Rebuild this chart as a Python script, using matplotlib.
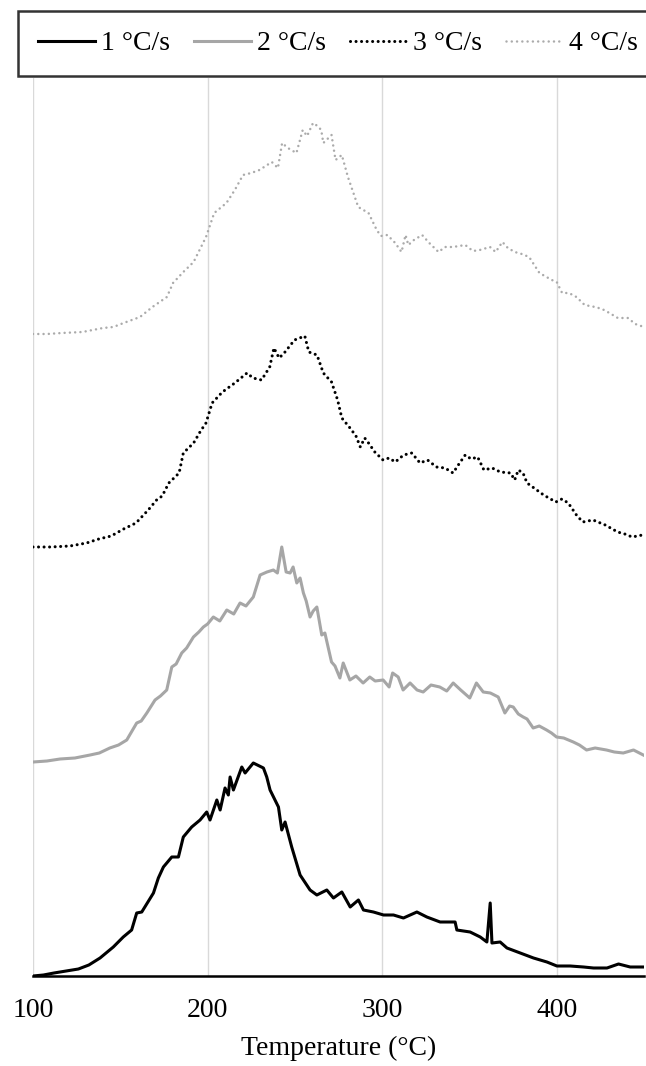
import matplotlib.pyplot as plt

plt.rcParams['font.family'] = ['Liberation Serif', 'DejaVu Serif']

# 1 C/s
t1 = [100, 106, 112, 119, 126, 132, 138.4, 146, 151.7, 156.5, 159.4, 162.3, 169, 171.8, 174.7, 179.5,
      183.3, 186.1, 190.9, 195.7, 199.5, 201.4, 205.3, 207.2, 210, 211.9, 212.9, 214.8, 219.6, 221.5,
      226.2, 232, 233.9, 235.8, 240.6, 242.5, 244.4, 248.2, 253, 258.7, 262.6, 268.3, 272.1, 276.9,
      281.7, 286.4, 289.3, 295, 300.8, 306.5, 312.2, 319.9, 325.6, 333.2, 341.8, 342.8, 350.4, 356.2,
      360, 361.9, 362.9, 367.6, 371.5, 379.1, 386.7, 394.4, 400.1, 407.7, 415.4, 421.1, 428.8, 435.4,
      442.1, 449.8]
y1 = [0, 1, 3, 5, 7, 11, 18, 29, 39, 46, 63, 64, 83, 98, 109, 119,
      119, 139, 149, 156, 164, 156, 176, 166, 188, 181, 199, 186, 209, 203,
      213, 208, 199, 186, 169, 146, 154, 129, 101, 86, 81, 86, 78, 84,
      69, 76, 66, 64, 61, 61, 58, 64, 59, 54, 54, 46, 44, 39,
      34, 73, 33, 34, 28, 23, 18, 14, 10, 10, 9, 8, 8, 12,
      9, 9]

# 2 C/s
t2 = [100, 108, 115.5, 124, 132.7, 138, 144, 149, 153.7, 159.4, 162, 165.2, 169.9, 173, 176.6, 179.5,
      182, 185.2, 188, 191.9, 195, 197.6, 200, 203.3, 207, 211, 215, 218.6, 222, 226.2, 230.1, 234,
      237.7, 240, 242.5, 245, 247.3, 249, 251.1, 253, 254.9, 256.5, 258.7, 260.5, 262.6, 265.4, 267.2,
      271, 273, 275.8, 277.7, 281.5, 285, 289.1, 292.9, 296, 300.6, 304, 306, 309.2, 312, 316, 320,
      323.5, 328, 333, 337, 340.7, 345, 350.2, 354, 357.9, 362, 366.5, 370.3, 373, 375.1, 378, 380.8,
      383, 386.5, 390, 394.2, 397, 399.9, 404, 409.5, 413, 417.1, 422, 428.5, 433, 438.1, 444, 449.6]
y2 = [214, 215, 217, 218, 221, 223, 228, 231, 236, 253, 255, 263, 276, 280, 286, 309,
      312, 323, 328, 339, 344, 349, 352, 359, 355, 366, 362, 373, 370, 379, 401, 404,
      406, 403, 429, 404, 403, 409, 393, 398, 383, 375, 359, 365, 369, 341, 343,
      314, 310, 298, 313, 296, 300, 293, 299, 295, 296, 289, 303, 299, 286, 293, 286,
      284, 291, 289, 285, 293, 286, 278, 293, 284, 283, 279, 263, 270, 269, 262, 259,
      257, 248, 250, 246, 243, 239, 238, 234, 231, 226, 228, 226, 224, 223, 226, 221]

# 3 C/s
t3 = [100, 110, 121.2, 130.7, 137.7, 144.8, 151.9, 159, 166, 170.8, 174, 177.8, 183.7, 186.1, 192,
      196, 199.1, 202.6, 208.5, 215.6, 222.6, 226, 230.9, 235.6, 238, 241, 243.9, 249.8, 255.7, 258,
      262.7, 266.3, 271, 274.5, 276.9, 281.6, 285, 287.5, 290, 292.2, 295.8, 300.5, 304, 307.5, 312.3,
      317, 321.7, 326, 331.1, 336, 340.6, 344, 347.6, 351, 354.7, 358.3, 363, 367.7, 373.6, 375.9,
      378, 380.7, 383, 387, 392.5, 399.5, 403, 406.6, 411.3, 414.9, 420.8, 427.8, 434.9, 439, 443.2, 449.1]
y3 = [429, 429, 430, 433, 437, 440, 447, 453, 466, 476, 480, 493, 503, 523, 533,
      545, 553, 573, 584, 593, 603, 598, 596, 609, 628, 618, 623, 636, 640, 624,
      621, 603, 594, 576, 558, 548, 540, 529, 538, 533, 524, 516, 518, 514, 521,
      523, 513, 516, 509, 508, 503, 512, 521, 517, 519, 506, 508, 504, 503, 496,
      506, 503, 493, 488, 481, 474, 477, 473, 461, 454, 456, 451, 444, 442, 439, 441]

# 4 C/s
t4 = [100, 108, 116.5, 128.3, 140.1, 146, 151.9, 161.3, 168.4, 176.7, 180.2, 186.1, 192, 199.1, 203.8,
      210.8, 215.6, 220.3, 225, 229.7, 236.8, 240.3, 242.7, 246, 250.9, 254.5, 257, 260.4, 263,
      265.1, 266.3, 271, 273.3, 276.9, 280.4, 286.3, 292.2, 296.9, 299.3, 303, 307.5, 311.1, 313.4,
      315, 318.2, 322.9, 327, 332.3, 336, 340.6, 347.6, 352, 355.9, 361.8, 365, 368.9, 372, 376, 380,
      384.2, 390.1, 397.2, 400, 403.1, 407, 411.3, 416, 422, 426, 430.2, 435, 440.8, 445, 450]
y4 = [642, 642, 643, 644, 648, 649, 653, 659, 669, 679, 693, 704, 714, 739, 763,
      773, 786, 801, 803, 806, 814, 808, 833, 828, 823, 846, 840, 853, 850,
      846, 833, 841, 816, 821, 799, 769, 763, 746, 740, 741, 733, 724, 741,
      731, 736, 741, 733, 724, 729, 729, 731, 725, 726, 729, 724, 734, 728, 724, 722,
      719, 703, 696, 694, 683, 683, 679, 671, 669, 667, 663, 658, 658, 652, 649]

labels = ['1 \u00b0C/s', '2 \u00b0C/s', '3 \u00b0C/s', '4 \u00b0C/s']

fig = plt.figure(figsize=(6.46, 10.66), dpi=100)
ax = fig.add_axes([33 / 646, 90 / 1066, 611 / 646, 898 / 1066])

ax.plot(t1, y1, color='black', lw=2.2, label=labels[0])
ax.plot(t2, y2, color='#a6a6a6', lw=2.2, label=labels[1])
ax.plot(t3, y3, color='black', lw=2.2, linestyle=(0, (0.01, 1.8)), dash_capstyle='round', label=labels[2])
ax.plot(t4, y4, color='#ababab', lw=1.8, linestyle=(0, (0.01, 2.1)), dash_capstyle='round', label=labels[3])

ax.set_xlim(100, 450)
ax.set_ylim(0, 898)
ax.set_xticks([100, 200, 300, 400])
ax.set_yticks([])
ax.grid(axis='x', color='#d9d9d9', lw=1)
ax.set_axisbelow(True)
for s in ['top', 'right', 'left']:
    ax.spines[s].set_visible(False)
ax.spines['bottom'].set_linewidth(1.8)
ax.tick_params(axis='x', length=0, pad=16, labelsize=20)
ax.set_xlabel('Temperature (\u00b0C)', fontsize=20, labelpad=9)

leg = fig.legend(loc='upper left', bbox_to_anchor=(18 / 646, 1 - 11 / 1066), ncol=4, fontsize=20,
                 frameon=True, fancybox=False, edgecolor='black', handlelength=2.05,
                 handletextpad=0.22, columnspacing=0.86, borderpad=0.72, borderaxespad=0)
leg.get_frame().set_linewidth(1.8)

fig.savefig('out.png', dpi=100)
